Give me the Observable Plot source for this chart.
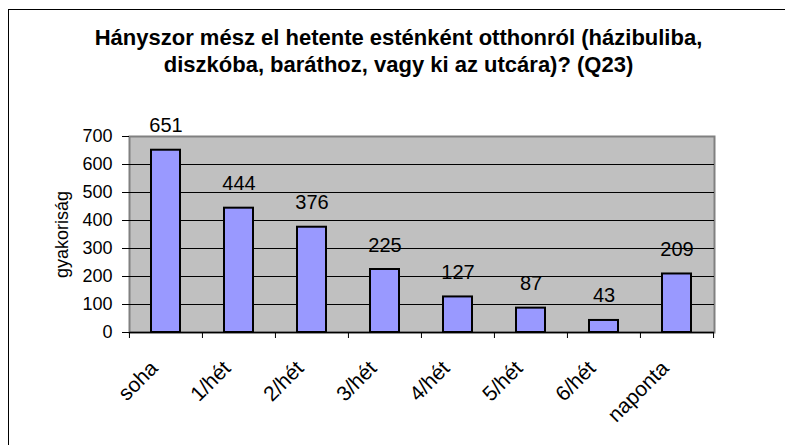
<!DOCTYPE html>
<html>
<head>
<meta charset="utf-8">
<script src="https://cdn.jsdelivr.net/npm/d3@7"></script>
<script src="https://cdn.jsdelivr.net/npm/@observablehq/plot@0.6"></script>
<style>
  html, body { margin: 0; padding: 0; background: #fff; }
  body { width: 785px; height: 445px; position: relative; overflow: hidden; font-family: "Liberation Sans", Arial, sans-serif; }
  #box { position: absolute; left: 8px; top: 9px; width: 900px; height: 600px; border-left: 1px solid #000; border-top: 1px solid #000; box-sizing: border-box; }
  #title { position: absolute; left: 10px; width: 777px; top: 24px; text-align: center; font-weight: bold; font-size: 22px; line-height: 27px; color: #000; }
  #chart { position: absolute; left: 0; top: 100px; }
</style>
</head>
<body>
<div id="box"></div>
<div id="title">Hányszor mész el hetente esténként otthonról (házibuliba,<br>diszkóba, baráthoz, vagy ki az utcára)? (Q23)</div>
<div id="chart"></div>
<script>
const categories = ["soha", "1/hét", "2/hét", "3/hét", "4/hét", "5/hét", "6/hét", "naponta"];
const values = [651, 444, 376, 225, 127, 87, 43, 209];
const yTicks = [0, 100, 200, 300, 400, 500, 600, 700];
const yLabel = "gyakoriság";

const data = categories.map((c, i) => ({cat: c, value: values[i]}));

const W = 785, H = 345;
const mL = 129, mR = 71, mT = 36, mB = 113;
const step = (W - mL - mR) / categories.length;
const font = "'Liberation Sans', Arial, sans-serif";

const chart = Plot.plot({
  width: W,
  height: H,
  marginLeft: mL,
  marginRight: mR,
  marginTop: mT,
  marginBottom: mB,
  style: {fontFamily: font, fontSize: "18px", background: "transparent", color: "#000"},
  x: {domain: categories, paddingInner: 0.6, paddingOuter: 0.3, axis: null},
  y: {domain: [0, 700], axis: null},
  marks: [
    Plot.frame({fill: "#c0c0c0", stroke: "#808080", strokeWidth: 2}),
    Plot.ruleY(yTicks.filter(t => t > 0 && t < 700), {stroke: "#000", strokeWidth: 1}),
    Plot.barY(data, {x: "cat", y: "value", fill: "#9999ff", stroke: "#000", strokeWidth: 2}),
    Plot.ruleY([0], {stroke: "#000", strokeWidth: 1.5}),
    Plot.ruleX([0], {x: () => 0, frameAnchor: "left", stroke: "#000"}),
    Plot.axisY({ticks: yTicks, tickSize: 7, tickPadding: 10, fontSize: 18, label: yLabel, labelAnchor: "center", labelArrow: "none", labelOffset: 74, stroke: "#000"}),
    Plot.ruleX(categories, {x: d => d, y1: 0, y2: 0, dx: -step / 2, insetBottom: -6, stroke: "#000"}),
    Plot.ruleX([categories[categories.length - 1]], {x: d => d, y1: 0, y2: 0, dx: step / 2, insetBottom: -6, stroke: "#000"}),
    Plot.text(data, {x: "cat", y: "value", text: d => String(d.value), lineAnchor: "bottom", dy: -18, fontSize: 20}),
    Plot.text(categories, {x: d => d, frameAnchor: "bottom", text: d => d, rotate: -45, textAnchor: "end", lineAnchor: "bottom", dx: -7, dy: 37, fontSize: 21})
  ]
});
document.getElementById("chart").appendChild(chart);
</script>
</body>
</html>
